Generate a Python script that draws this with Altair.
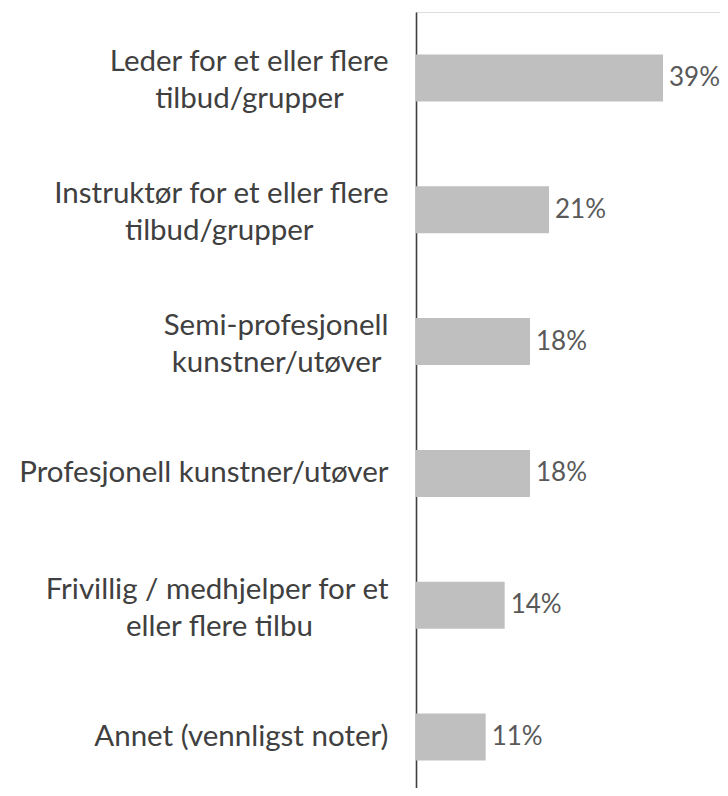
import altair as alt
import pandas as pd

# Data
line1 = [
    "Leder for et eller flere",
    "Instruktør for et eller flere",
    "Semi-profesjonell",
    "Profesjonell kunstner/utøver",
    "Frivillig / medhjelper for et",
    "Annet (vennligst noter)",
]
line2 = [
    "tilbud/grupper",
    "tilbud/grupper",
    "kunstner/utøver",
    "",
    "eller flere tilbu",
    "",
]
values = [39, 21, 18, 18, 14, 11]

# style: no-break spaces (closed by a word joiner) to centre the second line under the first
pad2 = [6, 10, 1, 0, 10, 0]

labels = []
for a, b, p in zip(line1, line2, pad2):
    labels.append(a + ("|" + b + "\u00a0" * p + "\u2060" if b else ""))

df = pd.DataFrame({"label": labels, "value": values})
df["text"] = df["value"].astype(str) + "%"

FONT = "Lato"
LINE_H = 37

y_enc = alt.Y(
    "label:N",
    sort=labels,
    scale=alt.Scale(domain=labels, range=[0, 791], paddingInner=0.643, paddingOuter=0.3215),
    axis=alt.Axis(
        title=None,
        ticks=False,
        grid=False,
        domain=True,
        domainColor="#3f3f3f",
        domainWidth=1.6,
        labelFont=FONT,
        labelFontSize=29.5,
        labelColor="#404040",
        labelAlign="right",
        labelBaseline="middle",
        labelPadding=28,
        labelLineHeight=LINE_H,
        labelLimit=0,
        labelOffset={
            "condition": {"test": "indexof(datum.label, '|') >= 0", "value": -15.5},
            "value": 0,
        },
        labelExpr="split(datum.label, '|')",
    ),
)

x_enc = alt.X("value:Q", scale=alt.Scale(domain=[0, 48], nice=False), axis=None)

bars = alt.Chart(df).mark_bar(color="#bfbfbf").encode(x=x_enc, y=y_enc)

text = alt.Chart(df).mark_text(
    align="left", baseline="middle", dx=6, font=FONT, fontSize=26, color="#595959"
).encode(x=x_enc, y=alt.Y("label:N", sort=labels), text="text:N")

chart = (
    alt.layer(bars, text)
    .properties(
        width=304,
        height=776,
        autosize=alt.AutoSizeParams(type="none"),
        padding={"left": 408, "top": 4, "right": 0, "bottom": 0},
    )
    .configure_view(stroke=None)
    .configure(background="white")
)

chart.save("out.html", embed_options={"renderer": "svg", "actions": False})
